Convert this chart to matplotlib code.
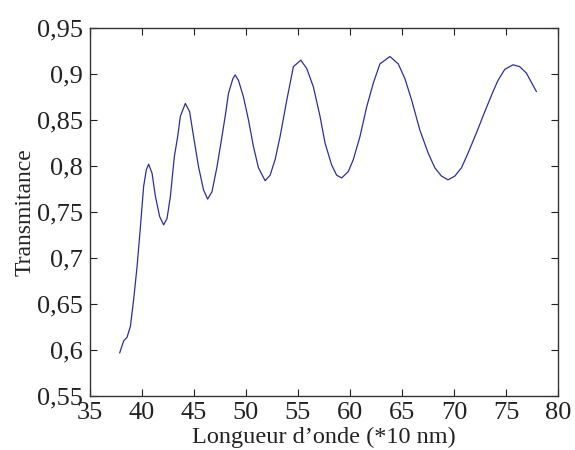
import matplotlib.pyplot as plt
from matplotlib.ticker import FuncFormatter

# Wavelength (*10 nm) and transmittance
wavelength = [37.86, 38.24, 38.57, 38.89, 39.2, 39.53, 39.85, 40.16, 40.42, 40.64,
              40.97, 41.29, 41.7, 42.08, 42.41, 42.73, 43.11, 43.43, 43.69, 44.17,
              44.58, 44.96, 45.44, 45.92, 46.31, 46.73, 47.21, 47.59, 48.0, 48.32,
              48.74, 48.96, 49.28, 49.76, 50.24, 50.72, 51.2, 51.84, 52.32, 52.8,
              53.28, 53.93, 54.56, 55.27, 55.84, 56.48, 57.12, 57.6, 58.24, 58.72,
              59.2, 59.84, 60.32, 60.96, 61.6, 62.24, 62.88, 63.84, 64.64, 65.28,
              65.92, 66.72, 67.52, 68.16, 68.8, 69.43, 70.08, 70.72, 71.35, 72.16,
              72.96, 73.76, 74.23, 74.88, 75.68, 76.32, 76.96, 77.44, 77.92]
transmittance = [0.597, 0.610, 0.614, 0.626, 0.655, 0.691, 0.734, 0.778, 0.796, 0.802,
                 0.792, 0.767, 0.745, 0.736, 0.743, 0.767, 0.810, 0.832, 0.854, 0.868,
                 0.859, 0.832, 0.799, 0.774, 0.764, 0.772, 0.799, 0.825, 0.854, 0.879,
                 0.895, 0.899, 0.893, 0.875, 0.850, 0.821, 0.798, 0.784, 0.790, 0.807,
                 0.832, 0.872, 0.908, 0.915, 0.906, 0.886, 0.854, 0.825, 0.801, 0.790,
                 0.787, 0.794, 0.807, 0.832, 0.864, 0.890, 0.911, 0.919, 0.911, 0.895,
                 0.872, 0.839, 0.814, 0.798, 0.789, 0.785, 0.789, 0.798, 0.814, 0.836,
                 0.859, 0.881, 0.893, 0.905, 0.910, 0.908, 0.901, 0.891, 0.881]

xticks = [35, 40, 45, 50, 55, 60, 65, 70, 75, 80]
yticks = [0.55, 0.6, 0.65, 0.7, 0.75, 0.8, 0.85, 0.9, 0.95]

plt.rcParams['font.family'] = ['Liberation Serif', 'DejaVu Serif']

fig = plt.figure(figsize=(5.75, 4.5), dpi=100)
ax = fig.add_axes([0.1565, 0.12, 0.8139, 0.8178])

ax.plot(wavelength, transmittance, color='#2d2da3', linewidth=0.9)

ax.set_xlim(35, 80)
ax.set_ylim(0.55, 0.95)
ax.set_xticks(xticks)
ax.set_yticks(yticks)
ax.yaxis.set_major_formatter(FuncFormatter(lambda v, p: ('%g' % round(v, 2)).replace('.', ',')))

ax.tick_params(direction='in', top=True, right=True, length=5, width=0.8,
               labelsize=19, colors='#222222')
ax.tick_params(axis='x', pad=4)
ax.tick_params(axis='y', pad=5)
for s in ax.spines.values():
    s.set_linewidth(1.0)
    s.set_color('#333333')

ax.set_xlabel("Longueur d\u2019onde (*10 nm)", fontsize=17.5, labelpad=2.5, color='#222222')
ax.set_ylabel("Transmitance", fontsize=17, labelpad=1, color='#222222')

fig.savefig('out.png', dpi=100)
